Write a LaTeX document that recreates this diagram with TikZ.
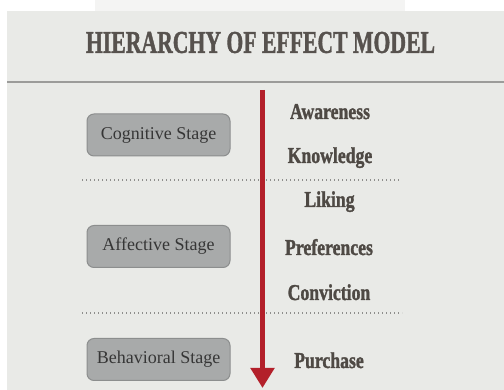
\documentclass[tikz,border=0pt]{standalone}
\usepackage{fontspec}
\usepackage{graphicx}
\setmainfont{Liberation Serif}
\newfontfamily\heavyface{Liberation Serif Bold}[FakeBold=1.6]
\usetikzlibrary{arrows.meta}

\definecolor{slidebg}{HTML}{E9EAE7}
\definecolor{topstrip}{HTML}{F4F4F3}
\definecolor{titleink}{HTML}{57524E}
\definecolor{ruleink}{HTML}{9C9C9A}
\definecolor{dotink}{HTML}{8E8E8C}
\definecolor{arrowred}{HTML}{B3202A}
\definecolor{boxfill}{HTML}{A8AAAA}
\definecolor{boxedge}{HTML}{8C8E8E}
\definecolor{boxink}{HTML}{363636}
\definecolor{labelink}{HTML}{4E4944}

\tikzset{
  stagebox/.style={draw=boxedge, fill=boxfill, line width=1pt,
    rounded corners=7pt, minimum width=143pt, minimum height=42pt,
    inner sep=0pt, text=boxink, font=\fontsize{18}{20}\selectfont},
  effectlabel/.style={anchor=base, inner sep=0pt, text=labelink,
    font=\fontsize{22.7}{24}\heavyface},
  separator/.style={draw=dotink, line width=1.3pt,
    dash pattern=on 1.3pt off 2.7pt},
  flowarrow/.style={draw=arrowred, line width=5pt,
    -{Triangle[length=20pt,width=23pt]}}
}

\newcommand{\narrow}[1]{\scalebox{0.78}[1]{#1}}

\begin{document}
\begin{tikzpicture}[x=1pt,y=-1pt]
  \useasboundingbox (0,0) rectangle (504,390);
  % page and slide background
  \fill[white] (0,0) rectangle (504,390);
  \fill[topstrip] (95,0) rectangle (405,11);
  \fill[slidebg] (7,11) rectangle (504,390);

  % title and rule beneath it
  \node[text=titleink, inner sep=0pt] (title) at (260.5,42.5)
    {\resizebox{349pt}{21pt}{\heavyface HIERARCHY OF EFFECT MODEL}};
  \coordinate (ruleL) at (7,82);
  \coordinate (ruleR) at (504,82);
  \draw[ruleink, line width=1.2pt] (ruleL) -- (ruleR);

  % dotted stage separators
  \coordinate (sepAL) at (82,180);
  \coordinate (sepAR) at (401,180);
  \coordinate (sepBL) at (82,313);
  \coordinate (sepBR) at (402,313);
  \draw[separator] (sepAL) -- (sepAR);
  \draw[separator] (sepBL) -- (sepBR);

  % stage boxes
  \node[stagebox] (cog) at (158.5,135) {Cognitive Stage};
  \node[stagebox] (aff) at (158.5,246.5) {Affective Stage};
  \node[stagebox] (beh) at (158.5,359.5) {Behavioral Stage};

  % downward flow arrow
  \coordinate (flowtop) at (262.5,90);
  \coordinate (flowend) at (262.5,388);
  \draw[flowarrow] (flowtop) -- (flowend);

  % effect steps
  \node[effectlabel] (aware) at (330,119) {\narrow{Awareness}};
  \node[effectlabel] (know)  at (330,163) {\narrow{Knowledge}};
  \node[effectlabel] (like)  at (329.5,207) {\narrow{Liking}};
  \node[effectlabel] (pref)  at (329,255) {\narrow{Preferences}};
  \node[effectlabel] (conv)  at (329,300) {\narrow{Conviction}};
  \node[effectlabel] (purch) at (329,368) {\narrow{Purchase}};
\end{tikzpicture}
\end{document}
